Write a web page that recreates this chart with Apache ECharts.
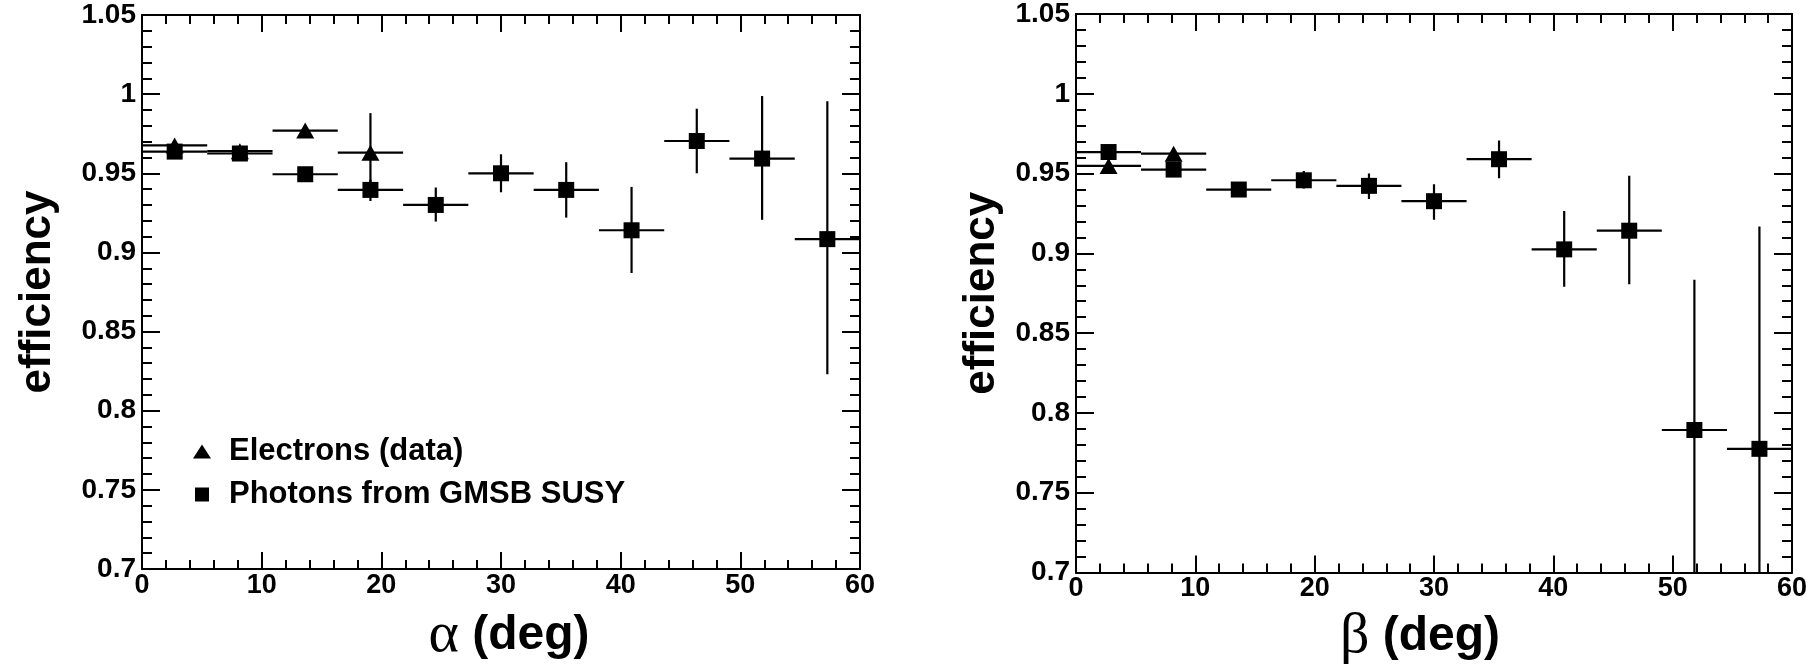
<!DOCTYPE html>
<html>
<head>
<meta charset="utf-8">
<script src="https://cdn.jsdelivr.net/npm/echarts@6/dist/echarts.min.js"></script>
<style>
html,body{margin:0;padding:0;background:#fff;}
#chart{width:1819px;height:665px;}
</style>
</head>
<body>
<div id="chart"></div>
<script>
// ---- data ----
const binCenters = [2.73, 8.18, 13.64, 19.09, 24.55, 30.0, 35.45, 40.91, 46.36, 51.82, 57.27];
const binLow     = [0, 5.45, 10.91, 16.36, 21.82, 27.27, 32.73, 38.18, 43.64, 49.09, 54.55];
const binHigh    = [5.45, 10.91, 16.36, 21.82, 27.27, 32.73, 38.18, 43.64, 49.09, 54.55, 60];

// alpha panel
const alphaPhotonEff  = [0.9637, 0.9625, 0.9494, 0.9395, 0.930, 0.950, 0.9395, 0.914, 0.9704, 0.9593, 0.9084];
const alphaPhotonLow  = [0.961, 0.960, 0.947, 0.9325, 0.9195, 0.938, 0.922, 0.887, 0.950, 0.9206, 0.823];
const alphaPhotonHigh = [0.966, 0.965, 0.952, 0.946, 0.941, 0.962, 0.957, 0.9414, 0.9908, 0.9988, 0.9955];
const alphaElecEff    = [0.9676, 0.964, 0.977, 0.963];
const alphaElecLow    = [0.965, 0.961, 0.974, 0.938];
const alphaElecHigh   = [0.970, 0.967, 0.980, 0.988];

// beta panel
const betaPhotonEff  = [0.9635, 0.9525, 0.940, 0.9458, 0.9423, 0.9327, 0.959, 0.9025, 0.9142, 0.7893, 0.7775];
const betaPhotonLow  = [0.961, 0.950, 0.937, 0.9406, 0.934, 0.921, 0.947, 0.879, 0.8807, 0.70, 0.70];
const betaPhotonHigh = [0.966, 0.955, 0.943, 0.9516, 0.950, 0.9433, 0.9708, 0.9266, 0.9487, 0.8834, 0.9168];
const betaElecEff    = [0.9548, 0.9625];
const betaElecLow    = [0.952, 0.959];
const betaElecHigh   = [0.958, 0.966];

const xTicks = [0, 10, 20, 30, 40, 50, 60];
const yTicks = ['0.7', '0.75', '0.8', '0.85', '0.9', '0.95', '1', '1.05'];
const legendNames = ['Electrons (data)', 'Photons from GMSB SUSY'];

// ---- build ----
const FONT = 'Liberation Sans';
function rows(eff, lo, hi) {
  return eff.map((v, i) => [binCenters[i], v, binLow[i], binHigh[i], lo[i], hi[i]]);
}
function errRender(params, api) {
  const x = api.value(0), y = api.value(1);
  const a = api.coord([api.value(2), y]), b = api.coord([api.value(3), y]);
  const c = api.coord([x, api.value(4)]), d = api.coord([x, api.value(5)]);
  const style = { stroke: '#000', lineWidth: 2.2 };
  return { type: 'group', children: [
    { type: 'line', shape: { x1: a[0], y1: a[1], x2: b[0], y2: b[1] }, style },
    { type: 'line', shape: { x1: c[0], y1: c[1], x2: d[0], y2: d[1] }, style }
  ]};
}
const lineStyle = { color: '#000', width: 2 };
function xAxis(grid, pos, label, name, gap, pad) {
  return {
    type: 'value', gridIndex: grid, position: pos, min: xTicks[0], max: xTicks[xTicks.length - 1], interval: 10,
    axisLine: { show: true, onZero: false, lineStyle },
    axisTick: { show: true, inside: true, length: 17, lineStyle },
    minorTick: { show: true, splitNumber: 5, length: 9, lineStyle },
    splitLine: { show: false }, minorSplitLine: { show: false },
    axisLabel: { show: label, margin: 3, fontFamily: FONT, fontWeight: 'bold', fontSize: 27, color: '#000' },
    name: name, nameLocation: 'middle', nameGap: gap,
    nameTextStyle: { fontFamily: FONT, fontWeight: 'bold', fontSize: 48, color: '#000', padding: pad || 0,
      rich: { g: { fontFamily: 'Liberation Serif', fontWeight: 'normal', fontSize: 58, color: '#000' },
              t: { fontFamily: FONT, fontWeight: 'bold', fontSize: 48, color: '#000' } } }
  };
}
function yAxis(grid, pos, label, name, gap) {
  return {
    type: 'value', gridIndex: grid, position: pos, min: 0.7, max: 1.05, interval: 0.05,
    axisLine: { show: true, onZero: false, lineStyle },
    axisTick: { show: true, inside: true, length: 18, lineStyle },
    minorTick: { show: true, splitNumber: 5, length: 10, lineStyle },
    splitLine: { show: false }, minorSplitLine: { show: false },
    axisLabel: { show: label, margin: 6, fontFamily: FONT, fontWeight: 'bold', fontSize: 28, color: '#000',
      formatter: v => yTicks[Math.round((v - 0.7) / 0.05)] },
    name: name, nameLocation: 'middle', nameGap: gap, nameRotate: 90,
    nameTextStyle: { fontFamily: FONT, fontWeight: 'bold', fontSize: 44, color: '#000' }
  };
}
function errSeries(xi, yi, data) {
  return { type: 'custom', xAxisIndex: xi, yAxisIndex: yi, renderItem: errRender, data: data, clip: true,
    encode: { x: 0, y: 1 }, silent: true, z: 2 };
}
function markSeries(xi, yi, name, symbol, size, data) {
  return { type: 'scatter', name: name, xAxisIndex: xi, yAxisIndex: yi, symbol: symbol, symbolSize: size,
    itemStyle: { color: '#000', opacity: 1 }, data: data.map(r => [r[0], r[1]]), z: 3, silent: true };
}

const aPh = rows(alphaPhotonEff, alphaPhotonLow, alphaPhotonHigh);
const aEl = rows(alphaElecEff, alphaElecLow, alphaElecHigh);
const bPh = rows(betaPhotonEff, betaPhotonLow, betaPhotonHigh);
const bEl = rows(betaElecEff, betaElecLow, betaElecHigh);

const option = {
  backgroundColor: '#fff',
  animation: false,
  grid: [
    { left: 142, right: 959, top: 15, bottom: 96, containLabel: false, outerBoundsMode: 'none' },
    { left: 1076, right: 27, top: 14, bottom: 92.5, containLabel: false, outerBoundsMode: 'none' }
  ],
  xAxis: [
    xAxis(0, 'bottom', true, '{g|α} {t|(deg)}', 38, [0, 0, 0, 16]),
    xAxis(1, 'bottom', true, '{g|β} {t|(deg)}', 35, [0, 28, 0, 0]),
    xAxis(0, 'top', false, '', 0),
    xAxis(1, 'top', false, '', 0)
  ],
  yAxis: [
    yAxis(0, 'left', true, 'efficiency', 82),
    yAxis(1, 'left', true, 'efficiency', 72),
    yAxis(0, 'right', false, '', 0),
    yAxis(1, 'right', false, '', 0)
  ],
  legend: {
    orient: 'vertical', left: 188, top: 429, itemWidth: 18, itemHeight: 14, itemGap: 8,
    selectedMode: false,
    textStyle: { fontFamily: FONT, fontWeight: 'bold', fontSize: 31, lineHeight: 35, color: '#000', padding: [0, 0, 0, 13] },
    data: [
      { name: legendNames[0], icon: 'triangle', itemStyle: { color: '#000' } },
      { name: legendNames[1], icon: 'path://M0,0 L13,0 L13,13 L0,13 Z', itemStyle: { color: '#000' } }
    ]
  },
  series: [
    errSeries(0, 0, aPh), errSeries(0, 0, aEl),
    markSeries(0, 0, legendNames[1], 'rect', 16, aPh),
    markSeries(0, 0, legendNames[0], 'triangle', [18, 16], aEl),
    errSeries(1, 1, bPh), errSeries(1, 1, bEl),
    markSeries(1, 1, legendNames[1], 'rect', 16, bPh),
    markSeries(1, 1, legendNames[0], 'triangle', [18, 16], bEl)
  ]
};
const chart = echarts.init(document.getElementById('chart'), null, { renderer: 'canvas' });
chart.setOption(option);
</script>
</body>
</html>
